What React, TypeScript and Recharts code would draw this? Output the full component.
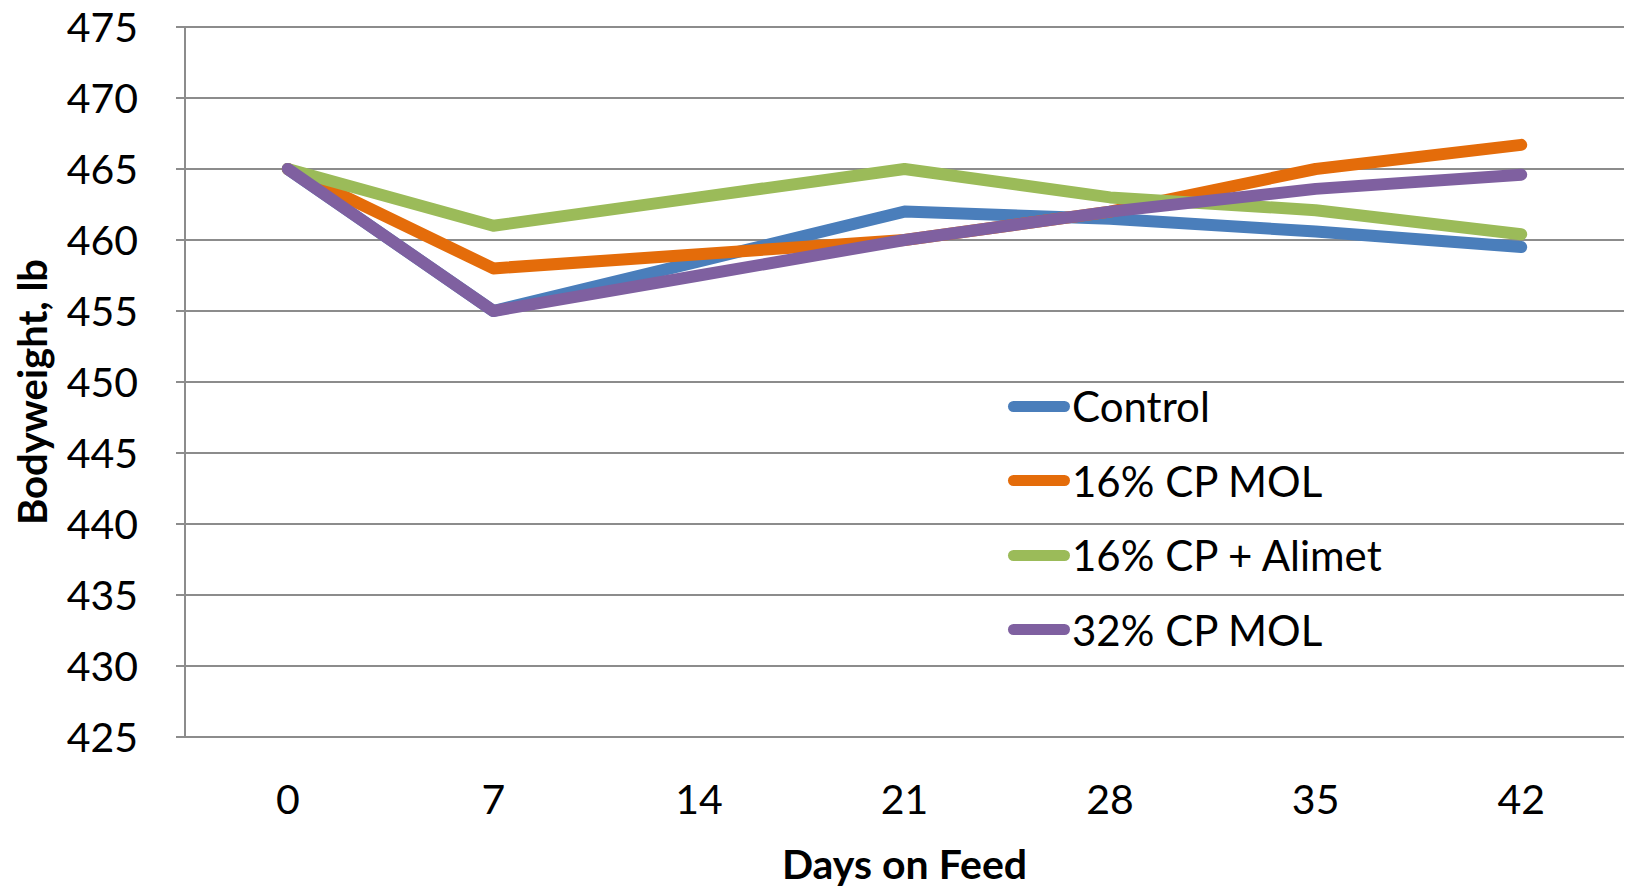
import { LineChart, Line, XAxis, YAxis, CartesianGrid, Legend } from "recharts";

const days = [0, 7, 14, 21, 28, 35, 42];
const control = [465, 455, 458.5, 462, 461.5, 460.6, 459.5];
const cp16Mol = [465, 458, 459, 460, 462, 465, 466.7];
const cp16Alimet = [465, 461, 463, 465, 463, 462.1, 460.4];
const cp32Mol = [465, 455, 457.5, 460, 462, 463.6, 464.6];
const yTicks = [425, 430, 435, 440, 445, 450, 455, 460, 465, 470, 475];

const series = [
  { key: "control", name: "Control", color: "#4A7EBB" },
  { key: "cp16Mol", name: "16% CP MOL", color: "#E46C0A" },
  { key: "cp16Alimet", name: "16% CP + Alimet", color: "#9BBB59" },
  { key: "cp32Mol", name: "32% CP MOL", color: "#7F60A0" },
];

const rows = days.map((d, i) => ({
  day: d,
  control: control[i],
  cp16Mol: cp16Mol[i],
  cp16Alimet: cp16Alimet[i],
  cp32Mol: cp32Mol[i],
}));

// category boundaries (Excel puts tick marks between categories)
const step = days[1] - days[0];
const bounds = [...days.map((d) => d - step / 2), days[days.length - 1] + step / 2];
const domain: [number, number] = [bounds[0], bounds[bounds.length - 1]];

const font = "Lato, 'Open Sans', sans-serif";
const gridColor = "#8C8C8C";

function LegendBox() {
  return (
    <div style={{ fontFamily: font, fontSize: 42, color: "#000" }}>
      {series.map((s) => (
        <div key={s.key} style={{ display: "flex", alignItems: "center", height: 74.5 }}>
          <div style={{ width: 62, height: 11, borderRadius: 6, background: s.color, marginRight: 2 }} />
          <span>{s.name}</span>
        </div>
      ))}
    </div>
  );
}

export default function App() {
  return (
    <div style={{ position: "absolute", left: 0, top: 0, background: "#fff" }}>
      <LineChart width={1630} height={888} data={rows} margin={{ top: 27, right: 6, bottom: 0, left: 0 }}>
        <CartesianGrid vertical={false} stroke={gridColor} strokeWidth={2} />
        <XAxis
          xAxisId="marks"
          dataKey="day"
          type="number"
          domain={domain}
          ticks={bounds}
          tick={false}
          tickSize={12}
          height={0}
          stroke={gridColor}
          strokeWidth={2}
          allowDataOverflow
        />
        <XAxis
          xAxisId="labels"
          dataKey="day"
          type="number"
          domain={domain}
          ticks={days}
          axisLine={false}
          tickLine={false}
          tickSize={0}
          tickMargin={48}
          height={151}
          tick={{ fill: "#000", fontSize: 41, fontFamily: font }}
          label={{
            value: "Days on Feed",
            position: "insideBottom",
            offset: 9,
            fill: "#000",
            fontSize: 41,
            fontWeight: 700,
            fontFamily: font,
          }}
          allowDataOverflow
        />
        <YAxis
          domain={[425, 475]}
          ticks={yTicks}
          width={185}
          tickSize={9}
          tickMargin={38}
          stroke={gridColor}
          strokeWidth={2}
          tick={{ fill: "#000", fontSize: 41, fontFamily: font }}
          label={{
            content: (p: any) => {
              const vb = p.viewBox;
              const cx = 32;
              const cy = vb.y + vb.height / 2 + 10;
              return (
                <text
                  x={cx}
                  y={cy}
                  transform={`rotate(-90 ${cx} ${cy})`}
                  textAnchor="middle"
                  dominantBaseline="central"
                  fontFamily={font}
                  fontSize={40}
                  fontWeight={700}
                  fill="#000"
                >
                  Bodyweight, lb
                </text>
              );
            },
          }}
        />
        {series.map((s) => (
          <Line
            key={s.key}
            xAxisId="labels"
            dataKey={s.key}
            name={s.name}
            stroke={s.color}
            strokeWidth={12}
            strokeLinecap="round"
            strokeLinejoin="round"
            dot={false}
            isAnimationActive={false}
          />
        ))}
        <Legend
          layout="horizontal"
          verticalAlign="middle"
          align="center"
          content={() => <LegendBox />}
          wrapperStyle={{ left: 1008, top: 369, width: 420 }}
        />
      </LineChart>
    </div>
  );
}
